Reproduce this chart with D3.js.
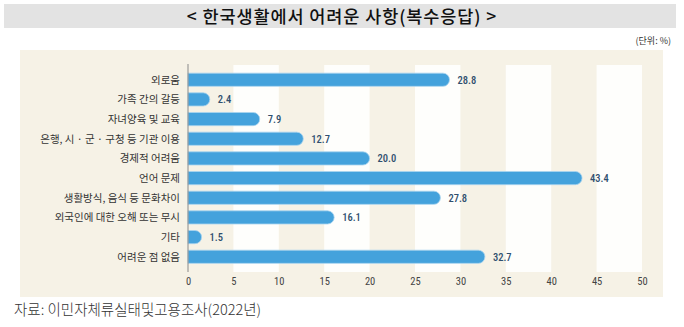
<!DOCTYPE html>
<html>
<head>
<meta charset="utf-8">
<script src="https://cdn.jsdelivr.net/npm/d3@7"></script>
<style>
  html, body { margin: 0; padding: 0; background: #ffffff; }
  svg { display: block; }
  .num { font-stretch: condensed; }
</style>
</head>
<body>
<svg id="chart" width="684" height="327"></svg>
<script>
// Difficulties in living in Korea (multiple responses), unit: %
const categories = [
  "외로움",
  "가족 간의 갈등",
  "자녀양육 및 교육",
  "은행, 시 · 군 · 구청 등 기관 이용",
  "경제적 어려움",
  "언어 문제",
  "생활방식, 음식 등 문화차이",
  "외국인에 대한 오해 또는 무시",
  "기타",
  "어려운 점 없음"
];
const values = [28.8, 2.4, 7.9, 12.7, 20.0, 43.4, 27.8, 16.1, 1.5, 32.7];
const tickValues = [0, 5, 10, 15, 20, 25, 30, 35, 40, 45, 50];

const titleText = "< 한국생활에서 어려운 사항(복수응답) >";
const unitText = "(단위: %)";
const sourceText = "자료: 이민자체류실태및고용조사(2022년)";

const krFont = "'Noto Sans CJK KR', 'Noto Sans', sans-serif";
const numFont = "Roboto, 'Liberation Sans', sans-serif";

const svg = d3.select("#chart");

// Title band
svg.append("rect").attr("x", 4).attr("y", 4).attr("width", 672).attr("height", 24)
  .attr("fill", "#e3e3e3");
svg.append("text").attr("x", 342).attr("y", 22.5)
  .attr("text-anchor", "middle")
  .attr("font-family", krFont).attr("font-size", 17.5).attr("font-weight", 500)
  .attr("letter-spacing", 0.9)
  .attr("fill", "#111").text(titleText);

// Unit note
svg.append("text").attr("x", 671).attr("y", 44)
  .attr("text-anchor", "end")
  .attr("font-family", krFont).attr("font-size", 9)
  .attr("fill", "#333").text(unitText);

// Panel background
svg.append("rect").attr("x", 20).attr("y", 50).attr("width", 643).attr("height", 247)
  .attr("fill", "#f6f2e6");

const x = d3.scaleLinear().domain([0, 50]).range([188, 642]);
const y = d3.scaleBand().domain(categories).range([70, 266.5]).paddingInner(0.33).paddingOuter(0.16);

// Alternating white column bands
const bandStarts = tickValues.slice(0, -1).filter((d, i) => i % 2 === 1);
svg.append("g").selectAll("rect").data(bandStarts).join("rect")
  .attr("x", d => x(d))
  .attr("width", d => x(d + 5) - x(d))
  .attr("y", 65).attr("height", 207)
  .attr("fill", "#fefefc");

// Bars with rounded right ends
const bh = y.bandwidth();
const barPath = (v, yy) => {
  const x0 = x(0), x1 = x(v), r = bh / 2;
  const xr = Math.max(x0, x1 - r);
  return `M${x0},${yy}H${xr}A${r},${r} 0 0 1 ${xr},${yy + bh}H${x0}Z`;
};
svg.append("g").selectAll("path").data(values).join("path")
  .attr("d", (d, i) => barPath(d, y(categories[i])))
  .attr("fill", "#44a2dc")
  .attr("stroke", "#a9d4ef").attr("stroke-width", 0.8);

// Value labels
svg.append("g").selectAll("text").data(values).join("text")
  .attr("class", "num")
  .attr("x", d => x(d) + 8)
  .attr("y", (d, i) => y(categories[i]) + bh / 2)
  .attr("dy", "0.36em")
  .attr("font-family", numFont).attr("font-size", 10.5).attr("font-weight", 500)
  .attr("fill", "#2f4f6e")
  .text(d => d.toFixed(1));

// Category labels
svg.append("g").selectAll("text").data(categories).join("text")
  .attr("x", 180)
  .attr("y", d => y(d) + bh / 2)
  .attr("dy", "0.36em")
  .attr("text-anchor", "end")
  .attr("font-family", krFont).attr("font-size", 10.5)
  .attr("fill", "#333").text(d => d);

// Value axis
const axis = d3.axisBottom(x).tickValues(tickValues).tickSize(0).tickPadding(0);
const gAxis = svg.append("g").attr("transform", "translate(0,278)").call(axis);
gAxis.select(".domain").remove();
gAxis.selectAll("text")
  .attr("class", "num")
  .attr("font-family", numFont).attr("font-size", 10.5)
  .attr("fill", "#444").attr("dy", "0.71em");

// Baseline
svg.append("line").attr("x1", x(0)).attr("x2", x(0)).attr("y1", 64).attr("y2", 272)
  .attr("stroke", "#8a8a8a").attr("stroke-width", 1);

// Source note
svg.append("text").attr("x", 14).attr("y", 315)
  .attr("font-family", krFont).attr("font-size", 14.5).attr("font-weight", 300)
  .attr("fill", "#333").text(sourceText);
</script>
</body>
</html>
